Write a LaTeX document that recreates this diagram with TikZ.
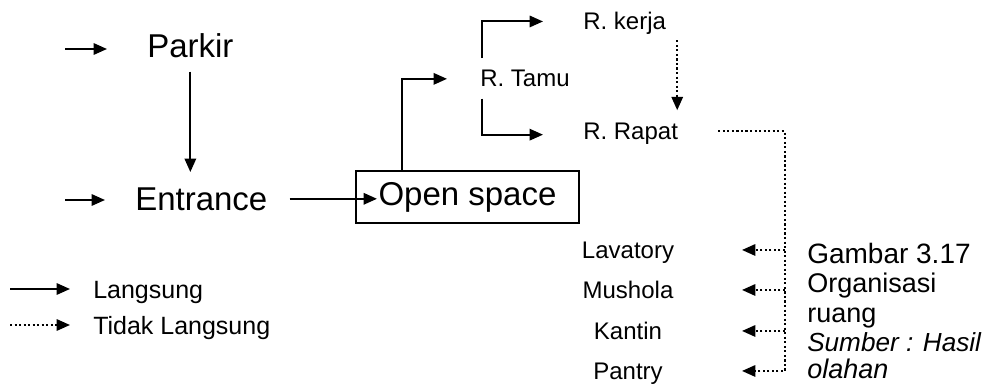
\documentclass[tikz,border=0pt]{standalone}
\usepackage{fontspec}
\setmainfont{Liberation Sans}
\usetikzlibrary{arrows.meta}
\begin{document}
\begin{tikzpicture}[x=0.75pt,y=-0.75pt,
  big/.style={font=\fontsize{24.75}{30}\selectfont, inner sep=0pt},
  mid/.style={font=\fontsize{18}{22}\selectfont, inner sep=0pt},
  legtxt/.style={font=\fontsize{18.75}{22}\selectfont, inner sep=0pt},
  note/.style={font=\fontsize{20.25}{21.75}\selectfont, inner sep=0pt, anchor=base west},
  tipend/.style={-{Triangle[length=10pt,width=8.5pt]}},
  direct/.style={line width=1.5pt, tipend},
  dotline/.style={line width=1.5pt, dash pattern=on 1.6pt off 1.8pt},
  indirect/.style={dotline, tipend},
  boxnode/.style={draw, line width=1.5pt, minimum width=167.25pt, minimum height=39pt,
    inner sep=0pt, font=\fontsize{24.75}{30}\selectfont}]

\useasboundingbox (0,0) rectangle (993,385);

% main nodes
\node[big, anchor=base west] (parkir) at (147,58) {Parkir};
\node[big, anchor=base west] (entrance) at (135,210) {Entrance};
\node[boxnode] (open) at (467.5,197) {Open space};
\node[mid, anchor=base west] (tamu) at (480,87) {R. Tamu};
\node[mid, anchor=base west] (kerja) at (583,30) {R. kerja};
\node[mid, anchor=base west] (rapat) at (583,140) {R. Rapat};

\node[mid, anchor=base] (lav) at (628,258.5) {Lavatory};
\node[mid, anchor=base] (mus) at (628,298.5) {Mushola};
\node[mid, anchor=base] (kan) at (628,339.5) {Kantin};
\node[mid, anchor=base] (pan) at (628,379.5) {Pantry};

% caption
\node[note, font=\fontsize{21}{22}\selectfont] (cap1) at (807,263) {Gambar 3.17};
\node[note] (cap2) at (807,292) {Organisasi};
\node[note] (cap3) at (807,322) {ruang};
\node[note, font=\fontsize{19.6}{22}\selectfont] (cap4) at (807,351) {\textit{Sumber : Hasil}};
\node[note] (cap5) at (807,378) {\textit{olahan}};

% legend
\node[legtxt, anchor=base west] (leg1) at (93,298) {Langsung};
\node[legtxt, anchor=base west] (leg2) at (93,334) {Tidak Langsung};
\coordinate (l1) at (10,289);
\coordinate (l2) at (10,325);
\draw[direct] (l1) -- (l1 -| leg1.west) [shorten >=17.25pt];
\draw[indirect] (l2) -- (l2 -| leg2.west) [shorten >=17.25pt];

% free starts
\coordinate (pin) at (65,49);
\coordinate (ein) at (65,200);
\coordinate (bus) at (785,0);
\coordinate (tipx) at (742,0);

% solid connectors
\draw[direct, shorten >=30pt] (pin) -- (pin -| parkir.west);
\draw[direct, shorten >=22.5pt] (ein) -- (ein -| entrance.west);
\draw[direct, shorten >=11.25pt] ([yshift=-9.75pt]parkir.south) -- (parkir.south |- entrance.north);
\draw[direct] ([xshift=16.5pt]entrance.east) -- ([xshift=16.5pt]entrance.east -| open.west);
\draw[direct, shorten >=24.75pt] ([xshift=35.25pt]open.north west) |- (tamu.west);
\draw[direct, shorten >=30pt] ([xshift=1.5pt,yshift=9pt]tamu.north west) |- ([yshift=6.4pt]kerja.base west);
\draw[direct, shorten >=30pt] ([xshift=1.5pt,yshift=-8.25pt]tamu.south west) |- ([yshift=4pt]rapat.base west);

% indirect connectors
\draw[indirect, shorten >=9.75pt] ([xshift=8.25pt,yshift=-3.75pt]kerja.south east) -- ([xshift=8.25pt]kerja.south east |- rapat.north);
\draw[indirect] ([xshift=30pt,yshift=6.4pt]rapat.base east) -| ([yshift=6.4pt]bus |- pan.base) -- ([yshift=6.4pt]tipx |- pan.base);
\draw[indirect] ([yshift=6.4pt]bus |- lav.base) -- ([yshift=6.4pt]tipx |- lav.base);
\draw[indirect] ([yshift=6.4pt]bus |- mus.base) -- ([yshift=6.4pt]tipx |- mus.base);
\draw[indirect] ([yshift=6.4pt]bus |- kan.base) -- ([yshift=6.4pt]tipx |- kan.base);
\end{tikzpicture}
\end{document}
